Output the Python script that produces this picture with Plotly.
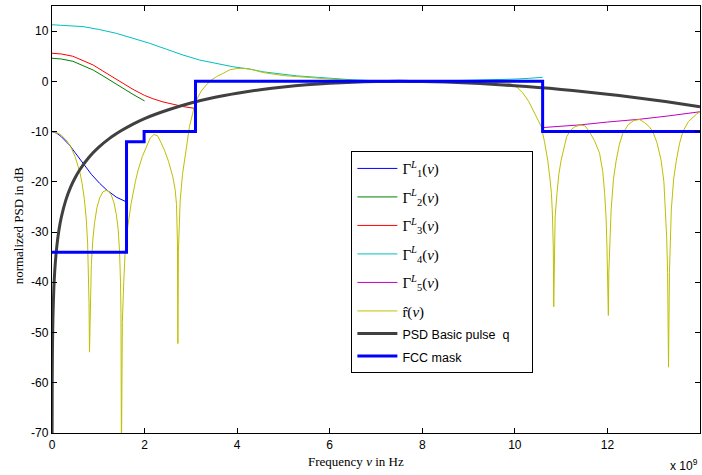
import plotly.graph_objects as go

# ---------------- data (frequency in units of 1e9 Hz) -------------
g1_x = [0, 0.1, 0.2, 0.3, 0.38, 0.5, 0.67, 0.85, 1.03, 1.19, 1.4, 1.61]
g1_y = [-10, -10.3, -11.0, -11.9, -12.7, -14.2, -16.3, -18.5, -20.3, -21.7, -23.1, -24.0]

g2_x = [0, 0.2, 0.45, 0.67, 0.89, 1.1, 1.32, 1.55, 1.75, 2.0]
g2_y = [4.6, 4.45, 4.0, 3.2, 2.25, 1.1, -0.2, -1.5, -2.6, -3.9]

g3_x = [0, 0.2, 0.45, 0.67, 0.89, 1.1, 1.32, 1.55, 1.75, 2.0, 2.18, 2.4, 2.61, 2.85, 3.1]
g3_y = [5.6, 5.45, 5.0, 4.2, 3.25, 2.05, 0.8, -0.5, -1.6, -2.8, -3.46, -4.1, -4.6, -5.05, -5.4]

g4_x = [0, 0.3, 0.67, 1.03, 1.39, 1.75, 2.11, 2.47, 2.83, 3.19, 3.55, 3.91, 4.27, 4.56,
        5.28, 6.0, 6.5, 7.0, 7.5, 8.0, 8.5, 9.0, 9.45, 10.0, 10.3, 10.6]
g4_y = [11.27, 11.15, 10.9, 10.3, 9.56, 8.57, 7.57, 6.4, 5.24, 4.24, 3.6, 2.9, 2.45, 1.9,
        1.1, 0.6, 0.3, 0.12, 0.05, 0.05, 0.1, 0.18, 0.28, 0.45, 0.6, 0.8]

g5_x = [10.6, 11.0, 11.43, 12.0, 12.69, 13.3, 13.85, 14.0]
g5_y = [-9.2, -8.95, -8.65, -8.1, -7.55, -6.9, -6.25, -6.05]

r_x = [0, 0.1, 0.2, 0.3, 0.4, 0.5, 0.6, 0.65, 0.7, 0.74, 0.77, 0.79, 0.8, 0.81,
       0.82, 0.83, 0.85, 0.88, 0.92, 0.97, 1.03, 1.1, 1.17, 1.21, 1.28, 1.34, 1.39,
       1.43, 1.46, 1.48, 1.49, 1.5,
       1.51, 1.52, 1.55, 1.58, 1.62, 1.71, 1.8, 1.86, 1.95, 2.04, 2.12, 2.2, 2.28,
       2.36, 2.43, 2.52, 2.61, 2.66, 2.69, 2.71, 2.72, 2.73, 2.75, 2.77, 2.82, 2.87,
       2.92, 2.97, 3.05, 3.12, 3.22, 3.33, 3.45, 3.55, 3.7, 3.84, 4.0, 4.13, 4.3,
       4.56, 5.0, 5.28, 5.6, 6.0, 6.4, 6.72, 7.0, 7.5, 8.0, 8.5, 9.0, 9.4, 9.7,
       9.92, 10.05, 10.17, 10.3, 10.39, 10.5, 10.57, 10.64, 10.71, 10.76, 10.79,
       10.81, 10.83, 10.84, 10.85, 10.87, 10.91, 10.95, 11.0, 11.06, 11.12, 11.2,
       11.3, 11.43, 11.52, 11.61, 11.72, 11.83, 11.9, 11.94, 11.97, 11.99, 12.01,
       12.02, 12.03, 12.05, 12.08, 12.13, 12.19, 12.26, 12.33, 12.45, 12.57, 12.69,
       12.8, 12.9, 12.98, 13.07, 13.16, 13.22, 13.25, 13.28, 13.3, 13.32, 13.34,
       13.36, 13.38, 13.43, 13.49, 13.56, 13.63, 13.75, 13.85, 13.93, 14.0]
r_y = [-10.0, -10.2, -10.7, -11.6, -12.9, -15.0, -18.0, -20.3, -23.5, -27.4, -32.2, -38.2, -44.2, -53.9,
       -48.5, -42.5, -36.5, -31.8, -28.1, -25.2, -23.2, -22.0, -21.7, -21.8, -22.6, -24.2, -26.5,
       -29.5, -34.0, -40.0, -46.0, -75.0,
       -55.0, -48.0, -40.0, -34.0, -30.0, -24.3, -20.0, -17.7, -15.0, -13.0, -11.3, -10.6, -10.8,
       -12.3, -13.7, -16.0, -19.0, -21.5, -24.5, -32.0, -52.2, -34.0, -26.0, -23.6, -18.5, -15.0,
       -12.0, -9.0, -6.0, -3.7, -2.0, -0.74, 0.3, 0.92, 1.6, 2.3, 2.55, 2.6, 2.4,
       1.75, 1.15, 0.92, 0.7, 0.46, 0.25, 0.12, 0.05, 0.0, 0.0, 0.0, -0.02, -0.1, -0.25,
       -0.5, -1.2, -2.3, -4.0, -5.7, -7.7, -9.0, -12.0, -15.7, -19.5, -22.3,
       -26.0, -33.0, -44.9, -33.0, -27.0, -22.3, -18.5, -15.7, -13.0, -11.0, -9.8,
       -9.0, -8.7, -8.9, -10.0, -11.8, -14.3, -18.0, -22.3, -27.0, -33.0, -40.0,
       -46.6, -38.0, -31.0, -25.6, -19.5, -15.7, -12.5, -10.4, -8.6, -7.8, -7.6,
       -8.2, -9.0, -10.0, -12.2, -15.7, -20.0, -25.6, -31.0, -38.0, -56.9, -38.0,
       -30.5, -25.6, -19.5, -15.7, -12.3, -10.0, -8.0, -7.05, -6.5, -6.05]

q_x = [0.001, 0.005, 0.01, 0.02, 0.04, 0.06, 0.1, 0.15, 0.2, 0.3, 0.4, 0.5, 0.6, 0.8, 1.0,
       1.25, 1.5, 1.75, 2.0, 2.5, 3.0, 3.5, 4.0, 4.5, 5.0, 5.5, 6.0, 6.5, 7.0, 7.5, 8.0,
       8.5, 9.0, 9.5, 10.0, 10.5, 11.0, 11.5, 12.0, 12.5, 13.0, 13.5, 14.0]
q_y = [-73.0, -59.2, -53.2, -47.1, -41.1, -37.6, -33.2, -29.6, -27.1, -23.6, -21.1, -19.2, -17.6, -15.1, -13.2,
       -11.3, -9.8, -8.5, -7.4, -5.7, -4.3, -3.2, -2.35, -1.66, -1.11, -0.69, -0.37, -0.16, -0.04, 0.0, -0.04,
       -0.15, -0.33, -0.57, -0.88, -1.2, -1.6, -2.05, -2.55, -3.1, -3.7, -4.35, -5.05]

mask_x = [0, 1.61, 1.61, 1.99, 1.99, 3.1, 3.1, 10.6, 10.6, 14.0]
mask_y = [-34, -34, -12, -12, -10, -10, 0, 0, -10, -10]

x_ticks = [0, 2, 4, 6, 8, 10, 12, 14]
y_ticks = [-70, -60, -50, -40, -30, -20, -10, 0, 10]

# ---------------- figure -------------
SERIF = "Liberation Serif, DejaVu Serif, serif"
SANS = "Liberation Sans, Arial, sans-serif"
SANS_SPAN = '<span style="font-family:Liberation Sans, Arial, sans-serif;font-size:12.5px">{}</span>'

fig = go.Figure()
series = [
    (g1_x, g1_y, "Γ<sup><i>L</i></sup><sub>1</sub>(<i>ν</i>)", "rgb(0,0,255)", "g1"),
    (g2_x, g2_y, "Γ<sup><i>L</i></sup><sub>2</sub>(<i>ν</i>)", "rgb(0,128,0)", "g2"),
    (g3_x, g3_y, "Γ<sup><i>L</i></sup><sub>3</sub>(<i>ν</i>)", "rgb(255,0,0)", "g3"),
    (g4_x, g4_y, "Γ<sup><i>L</i></sup><sub>4</sub>(<i>ν</i>)", "rgb(0,191,191)", "g4"),
    (g5_x, g5_y, "Γ<sup><i>L</i></sup><sub>5</sub>(<i>ν</i>)", "rgb(191,0,191)", "g5"),
    (r_x, r_y, "r\u0302(<i>ν</i>)", "rgb(191,191,0)", "rest"),
]
for xs, ys, name, col, grp in series:
    fig.add_trace(go.Scatter(x=xs, y=ys, mode="lines", name=name, legendgroup=grp,
                             line=dict(color=col, width=1)))
fig.add_trace(go.Scatter(x=q_x, y=q_y, mode="lines", legendgroup="rest",
                         name=SANS_SPAN.format("PSD Basic pulse&nbsp;&nbsp;q&nbsp;&nbsp;&nbsp;&nbsp;&nbsp;"),
                         line=dict(color="rgb(64,64,64)", width=3, shape="spline", smoothing=0.6)))
fig.add_trace(go.Scatter(x=mask_x, y=mask_y, mode="lines", legendgroup="rest",
                         name=SANS_SPAN.format("FCC mask"),
                         line=dict(color="rgb(0,0,255)", width=3)))

axis_common = dict(showline=True, linecolor="black", linewidth=1.3, mirror="ticks",
                   ticks="inside", ticklen=5, tickwidth=1, tickcolor="black",
                   showgrid=False, zeroline=False,
                   tickfont=dict(family=SANS, size=12, color="black"))

fig.update_layout(
    width=702, height=475,
    margin=dict(l=52, r=2, t=6, b=42),
    paper_bgcolor="white", plot_bgcolor="white",
    showlegend=True,
    legend=dict(x=0.462, y=0.66, xanchor="left", yanchor="top",
                bgcolor="white", bordercolor="black", borderwidth=1,
                font=dict(family=SERIF, size=15, color="black"),
                itemwidth=40, tracegroupgap=6),
    xaxis=dict(range=[0, 14], tickvals=x_ticks, ticktext=[str(v) for v in x_ticks], **axis_common),
    yaxis=dict(range=[-70, 15], tickvals=y_ticks, ticktext=[str(v) for v in y_ticks], **axis_common),
)

fig.add_annotation(text="Frequency <i>ν</i> in Hz", xref="paper", yref="paper",
                   x=0.469, y=-0.067, xanchor="center", yanchor="middle", showarrow=False,
                   font=dict(family=SERIF, size=13, color="black"))
fig.add_annotation(text="normalized PSD in dB", xref="paper", yref="paper",
                   x=-0.052, y=0.487, xanchor="center", yanchor="middle", showarrow=False,
                   textangle=-90, font=dict(family=SERIF, size=13, color="black"))
fig.add_annotation(text="x 10<sup>9</sup>", xref="paper", yref="paper",
                   x=1.0, y=-0.075, xanchor="right", yanchor="middle", showarrow=False,
                   font=dict(family=SANS, size=12, color="black"))

fig.write_html("out.html")
